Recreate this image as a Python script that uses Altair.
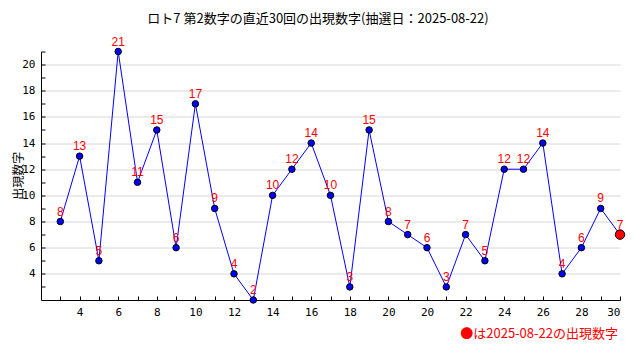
import altair as alt
import pandas as pd

# ---- data ----
draw_index = list(range(1, 31))
numbers = [8, 13, 5, 21, 11, 15, 6, 17, 9, 4, 2, 10, 12, 14, 10,
           3, 15, 8, 7, 6, 3, 7, 5, 12, 12, 14, 4, 6, 9, 7]
x_tick_positions = list(range(2, 31, 2))
x_tick_labels = ["4", "6", "8", "10", "12", "14", "16", "18", "20",
                 "20", "22", "24", "26", "28", "30"]
x_minor_ticks = list(range(1, 31))
y_tick_values = list(range(4, 21, 2))
y_minor_ticks = list(range(3, 22))
title_text = "ロト7 第2数字の直近30回の出現数字(抽選日：2025-08-22)"
y_title = "出現数字"
note_text = "●は2025-08-22の出現数字"

W, H = 579, 248.5
JP = "Noto Sans CJK JP"
MONO = "DejaVu Sans Mono"

df = pd.DataFrame({"idx": draw_index, "num": numbers})
df["latest"] = df["idx"] == df["idx"].max()

xs = alt.Scale(domain=[0, 30], nice=False, zero=False)
ys = alt.Scale(domain=[2, 21], nice=False, zero=False)

label_expr = "[" + ",".join(f"'{l}'" for l in x_tick_labels) + "][datum.value / 2 - 1]"

base = alt.Chart(df)

line = base.mark_line(color="#0000ff", strokeWidth=1).encode(
    x=alt.X("idx:Q", scale=xs, axis=alt.Axis(
        values=x_tick_positions, labelExpr=label_expr, ticks=False, grid=False,
        domainColor="black", domainWidth=1, labelFont=MONO, labelFontSize=11,
        labelColor="black", labelPadding=6, title=None)),
    y=alt.Y("num:Q", scale=ys, axis=alt.Axis(
        values=y_tick_values, ticks=False, grid=True, gridColor="#d6d6d6",
        gridWidth=1, domainColor="black", domainWidth=1, labelFont=MONO,
        labelFontSize=11, labelColor="black", labelPadding=6, title=None)),
)

pts = base.transform_filter("!datum.latest").mark_circle(
    color="#0000ff", stroke="black", strokeWidth=1, size=42, opacity=1
).encode(
    x=alt.X("idx:Q", scale=xs, axis=alt.Axis(
        orient="top", offset=-H, values=x_minor_ticks, labels=False,
        domain=False, grid=False, tickSize=4, tickColor="black", title=None)),
    y=alt.Y("num:Q", scale=ys, axis=alt.Axis(
        orient="right", offset=-W, values=y_minor_ticks, labels=False,
        domain=False, grid=False, tickSize=4, tickColor="black", title=None)),
)

last = base.transform_filter("datum.latest").mark_circle(
    color="#ff0000", stroke="black", strokeWidth=1, size=90, opacity=1
).encode(
    x=alt.X("idx:Q", scale=xs, axis=None),
    y=alt.Y("num:Q", scale=ys, axis=None),
)

labels = base.mark_text(
    color="#ff0000", font="Liberation Sans", fontSize=12,
    baseline="alphabetic", dy=-6
).encode(
    x=alt.X("idx:Q", scale=xs, axis=None),
    y=alt.Y("num:Q", scale=ys, axis=None),
    text="num:Q",
)

deco = alt.Chart(pd.DataFrame({"t": [0]}))

title = deco.mark_text(
    text=title_text, font=JP, fontSize=13, color="black",
    align="center", baseline="middle"
).encode(x=alt.value(277), y=alt.value(-33))

ytitle = deco.mark_text(
    text=y_title, font=JP, fontSize=12, color="black", angle=270,
    align="center", baseline="middle"
).encode(x=alt.value(-22), y=alt.value(H / 2))

note = deco.mark_text(
    text=note_text, font=JP, fontSize=13, color="#ff0000",
    align="right", baseline="middle"
).encode(x=alt.value(577), y=alt.value(282.5))

chart = alt.layer(line, pts, last, labels, title, ytitle, note).resolve_axis(
    x="independent", y="independent"
).properties(
    width=W, height=H,
    autosize=alt.AutoSizeParams(type="none"),
    padding={"left": 33, "top": 43.5, "right": 12, "bottom": 52},
    background="white",
).configure_view(stroke=None)

chart.save("out.html", embed_options={"renderer": "svg", "actions": False})
